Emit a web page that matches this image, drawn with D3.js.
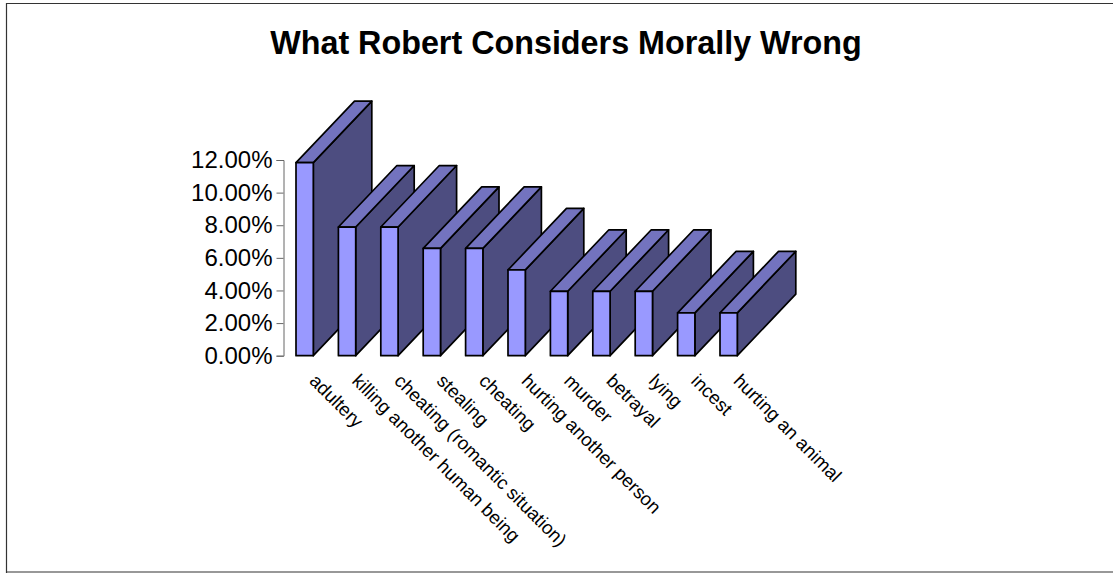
<!DOCTYPE html>
<html>
<head>
    <meta charset="utf-8">
    <script src="https://cdnjs.cloudflare.com/ajax/libs/d3/7.8.5/d3.min.js"></script>
    <style>
        html, body { margin: 0; padding: 0; background: #fff; }
        svg { display: block; }
        text { font-family: "Liberation Sans", Arial, sans-serif; fill: #000; }
    </style>
</head>
<body>
<svg id="chart" width="1113" height="573"></svg>
<script>
var categories = ["adultery", "killing another human being", "cheating (romantic situation)",
    "stealing", "cheating", "hurting another person", "murder", "betrayal", "lying", "incest",
    "hurting an animal"];
var percents = [11.84, 7.89, 7.89, 6.58, 6.58, 5.26, 3.95, 3.95, 3.95, 2.63, 2.63];
var yTicks = [0, 2, 4, 6, 8, 10, 12];
var chartTitle = "What Robert Considers Morally Wrong";

var width = 1113, height = 573;
var depthX = 58.5, depthY = 61.5;

var svg = d3.select("#chart");

// frame, only left/top/bottom show in the picture
svg.append("path")
    .attr("d", "M6.5,573V3.5H1113M6,572H1113")
    .attr("fill", "none")
    .attr("stroke", "#333")
    .attr("stroke-width", 1.2);

svg.append("text")
    .attr("x", 566)
    .attr("y", 54)
    .attr("text-anchor", "middle")
    .style("font-size", "32.3px")
    .style("font-weight", "bold")
    .text(chartTitle);

var x = d3.scaleBand()
    .domain(d3.range(categories.length))
    .range([296, 737.3])
    .paddingInner(0.592)
    .paddingOuter(0);

var y = d3.scaleLinear()
    .domain([0, 12])
    .range([355.7, 160]);

var yAxis = d3.axisLeft(y)
    .tickValues(yTicks)
    .tickSize(7)
    .tickSizeOuter(7)
    .tickPadding(4)
    .tickFormat(function(d) { return d.toFixed(2) + "%"; });

var axisG = svg.append("g")
    .attr("transform", "translate(283.5,0)")
    .call(yAxis);
axisG.selectAll("path, line").attr("stroke", "#666").attr("stroke-width", 1);
axisG.selectAll("text").style("font-size", "24px").attr("fill", "#000");

// bars go left to right so the next front face covers the side of the last one
var bars = svg.append("g")
    .attr("stroke", "#000")
    .attr("stroke-width", 1.7)
    .attr("stroke-linejoin", "round")
    .selectAll("g")
    .data(percents)
    .join("g");

bars.append("path")
    .attr("fill", "#4d4d80")
    .attr("d", function(d, i) {
        var x1 = x(i) + x.bandwidth(), y0 = y(0), y1 = y(d);
        return "M" + x1 + "," + y0 + "L" + (x1 + depthX) + "," + (y0 - depthY) +
            "V" + (y1 - depthY) + "L" + x1 + "," + y1 + "Z";
    });

bars.append("path")
    .attr("fill", "#7373bf")
    .attr("d", function(d, i) {
        var x0 = x(i), x1 = x0 + x.bandwidth(), y1 = y(d);
        return "M" + x0 + "," + y1 + "L" + (x0 + depthX) + "," + (y1 - depthY) +
            "H" + (x1 + depthX) + "L" + x1 + "," + y1 + "Z";
    });

bars.append("rect")
    .attr("fill", "#9999ff")
    .attr("x", function(d, i) { return x(i); })
    .attr("y", function(d) { return y(d); })
    .attr("width", x.bandwidth())
    .attr("height", function(d) { return y(0) - y(d); });

svg.append("g")
    .selectAll("text")
    .data(categories)
    .join("text")
    .attr("transform", function(d, i) {
        return "translate(" + (x(i) + 12.5) + ",382) rotate(45)";
    })
    .style("font-size", "18.67px")
    .text(function(d) { return d; });
</script>
</body>
</html>
